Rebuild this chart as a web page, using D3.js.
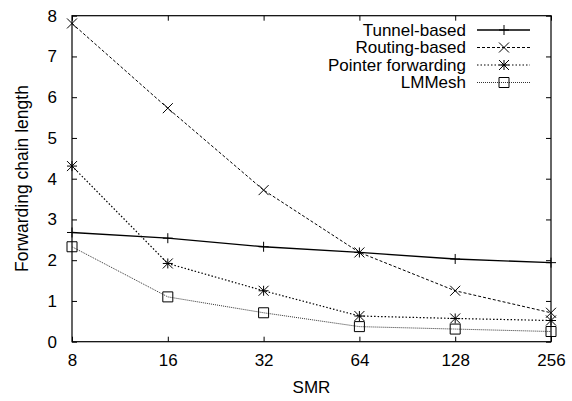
<!DOCTYPE html>
<html><head><meta charset="utf-8">
<script src="https://cdnjs.cloudflare.com/ajax/libs/d3/7.8.5/d3.min.js"></script>
<style>body{margin:0;background:#fff}text{font-family:"Liberation Sans",Arial,sans-serif;fill:#000}</style>
</head><body>
<script>
const smr = [8, 16, 32, 64, 128, 256];
const tunnelBased = [2.68, 2.54, 2.33, 2.19, 2.03, 1.94];
const routingBased = [7.81, 5.73, 3.72, 2.19, 1.25, 0.71];
const pointerForwarding = [4.31, 1.92, 1.25, 0.63, 0.57, 0.52];
const lmMesh = [2.33, 1.10, 0.71, 0.37, 0.31, 0.25];
const yTicks = [0, 1, 2, 3, 4, 5, 6, 7, 8];
const seriesNames = ["Tunnel-based", "Routing-based", "Pointer forwarding", "LMMesh"];

(function () {
const W = 572, H = 401;
const m = {l: 72, r: 21, t: 15.7, b: 59.3};
const FS = "17px";
const svg = d3.select("body").append("svg").attr("width", W).attr("height", H);
const x = d3.scaleLog().base(2).domain([8, 256]).range([m.l, W - m.r]);
const y = d3.scaleLinear().domain([0, 8]).range([H - m.b, m.t]);

const styles = [
  {dash: null, w: 1.3, color: "#000", marker: "plus"},
  {dash: "3,2", w: 1, color: "#000", marker: "cross"},
  {dash: "1.5,2", w: 1.2, color: "#000", marker: "star"},
  {dash: "1,1", w: 1, color: "#333", marker: "square"}
];
const data = [tunnelBased, routingBased, pointerForwarding, lmMesh];

function marker(g, type, cx, cy) {
  const p = d3.path();
  if (type === "plus" || type === "star") {
    p.moveTo(cx - 5, cy); p.lineTo(cx + 5, cy);
    p.moveTo(cx, cy - 5); p.lineTo(cx, cy + 5);
  }
  if (type === "cross" || type === "star") {
    p.moveTo(cx - 5, cy - 5); p.lineTo(cx + 5, cy + 5);
    p.moveTo(cx - 5, cy + 5); p.lineTo(cx + 5, cy - 5);
  }
  if (type === "square") {
    p.rect(cx - 5, cy - 5, 10, 10);
  }
  g.append("path").attr("d", p.toString()).attr("fill", "none").attr("stroke", "#000").attr("stroke-width", 1);
}

const axB = svg.append("g").attr("transform", `translate(0,${H - m.b})`)
  .call(d3.axisBottom(x).tickValues(smr).tickFormat(d3.format("d")).tickSizeInner(-5).tickSizeOuter(0).tickPadding(12));
const axT = svg.append("g").attr("transform", `translate(0,${m.t})`)
  .call(d3.axisTop(x).tickValues(smr).tickFormat("").tickSizeInner(-5).tickSizeOuter(0));
const axL = svg.append("g").attr("transform", `translate(${m.l},0)`)
  .call(d3.axisLeft(y).tickValues(yTicks).tickFormat(d3.format("d")).tickSizeInner(-5).tickSizeOuter(0).tickPadding(15));
const axR = svg.append("g").attr("transform", `translate(${W - m.r},0)`)
  .call(d3.axisRight(y).tickValues(yTicks).tickFormat("").tickSizeInner(-5).tickSizeOuter(0));
[axB, axT, axL, axR].forEach(g => {
  g.select(".domain").remove();
  g.selectAll("line").attr("stroke", "#000");
  g.selectAll("text").style("font-size", FS).attr("font-family", "Liberation Sans, Arial, sans-serif");
});
svg.append("rect").attr("x", m.l).attr("y", m.t).attr("width", W - m.r - m.l).attr("height", H - m.b - m.t)
  .attr("fill", "none").attr("stroke", "#000").attr("stroke-width", 1.2);

const line = d3.line().x((d, i) => x(smr[i])).y(d => y(d));
data.forEach((vals, k) => {
  const s = styles[k];
  svg.append("path").datum(vals).attr("d", line).attr("fill", "none")
    .attr("stroke", s.color).attr("stroke-width", s.w).attr("stroke-dasharray", s.dash);
  const g = svg.append("g");
  vals.forEach((v, i) => marker(g, s.marker, x(smr[i]), y(v)));
});

const legY = [30, 47.5, 65, 82.5];
seriesNames.forEach((n, k) => {
  const s = styles[k];
  svg.append("text").attr("x", 466).attr("y", legY[k]).attr("dy", "0.35em").attr("text-anchor", "end")
    .style("font-size", FS).text(n);
  svg.append("line").attr("x1", 477).attr("x2", 530).attr("y1", legY[k]).attr("y2", legY[k])
    .attr("stroke", s.color).attr("stroke-width", s.w).attr("stroke-dasharray", s.dash);
  marker(svg.append("g"), s.marker, 504, legY[k]);
});

svg.append("text").attr("x", 311.5).attr("y", 393).attr("text-anchor", "middle")
  .style("font-size", FS).text("SMR");
svg.append("text").attr("transform", `translate(27.5,178.5) rotate(-90)`)
  .attr("text-anchor", "middle").style("font-size", "17.5px").text("Forwarding chain length");
})();
</script>
</body></html>
